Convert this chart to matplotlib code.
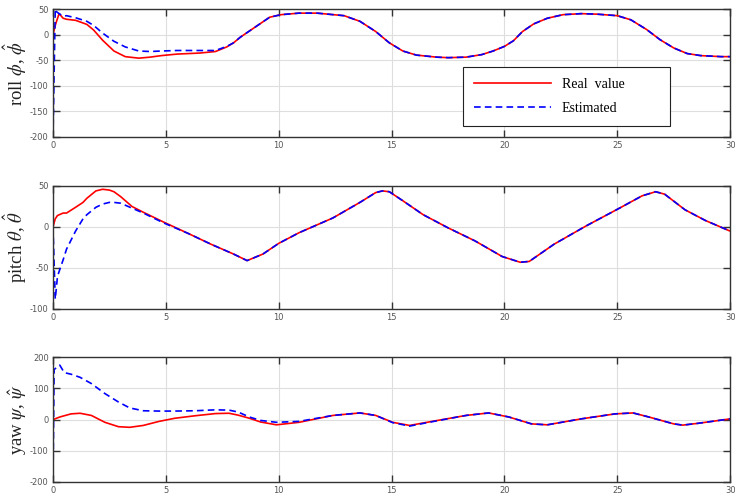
import numpy as np
import matplotlib
matplotlib.use('Agg')
import matplotlib.pyplot as plt

plt.rcParams['mathtext.fontset'] = 'stix'
plt.rcParams['axes.unicode_minus'] = False

# roll (deg)
roll_t = [0, 0.1, 0.15, 0.27, 0.45, 0.6, 1.0, 1.5, 1.8, 2.2, 2.7, 3.2, 3.8, 4.3, 4.8, 5.5, 6.5, 7.2,
          7.7, 8.0, 8.3, 8.7, 9.2, 9.6, 10.1, 10.9, 11.7, 12.9, 13.6, 14.3, 14.9, 15.5, 16.1, 17.0,
          17.5, 18.3, 19.0, 19.5, 20.0, 20.4, 20.8, 21.3, 21.9, 22.6, 23.4, 24.1, 25.0, 25.6, 26.3,
          26.9, 27.5, 28.1, 28.7, 29.6, 30.0]
roll_real = [0, 18, 25, 41, 32, 30, 28, 20, 9, -11, -32, -43, -46, -44, -41, -38, -36, -33,
             -24, -16, -5, 7, 22, 34, 39, 42, 42, 37, 26, 6, -16, -32, -40, -44,
             -45, -44, -39, -32, -23, -12, 6, 21, 32, 39, 41, 40, 37, 29, 10,
             -10, -26, -37, -41, -43, -43]
roll_est = [-200, 50, 45, 41, 36, 37, 33, 26, 18, 3, -13, -24, -32, -33, -32, -31, -31, -31,
            -23, -16, -5, 7, 22, 34, 39, 42, 42, 37, 26, 6, -16, -32, -40, -44,
            -45, -44, -39, -32, -23, -12, 6, 21, 32, 39, 41, 40, 37, 29, 10,
            -10, -26, -37, -41, -43, -43]

# pitch (deg)
pitch_t = [0, 0.1, 0.2, 0.45, 0.6, 1.0, 1.33, 1.5, 1.9, 2.2, 2.5, 2.7, 3.0, 3.5, 4.0, 4.9, 6.0,
           7.0, 8.0, 8.6, 9.3, 10.0, 10.9, 12.4, 13.6, 14.3, 14.6, 14.9, 15.5, 16.4, 17.5, 18.7,
           19.9, 20.7, 21.1, 22.2, 23.6, 25.1, 26.1, 26.7, 27.1, 28.0, 28.9, 30.0]
pitch_real = [0, 10, 14, 17, 17, 24, 30, 35, 44, 46, 45, 43, 37, 25, 18, 6, -8,
              -21, -33, -41, -33, -20, -7, 11, 30, 42, 44, 43, 32, 15, -1, -17,
              -36, -43, -42, -21, 1, 23, 38, 43, 40, 21, 8, -5]
pitch_est = [0, -88, -60, -40, -27, -5, 10, 15, 24, 28, 30, 30, 29, 23, 17, 5, -8,
             -21, -33, -41, -33, -20, -7, 11, 30, 42, 44, 43, 32, 15, -1, -17,
             -36, -43, -42, -21, 1, 23, 38, 43, 40, 21, 8, -5]

# yaw (deg)
yaw_t = [0, 0.05, 0.3, 0.5, 0.8, 1.2, 1.7, 2.3, 2.9, 3.4, 4.0, 4.7, 5.4, 6.3, 7.2, 7.8, 8.2, 8.7,
         9.2, 9.9, 10.9, 12.4, 13.6, 14.3, 15.05, 15.8, 16.8, 18.3, 19.3, 20.2, 21.2, 21.9, 23.4,
         24.9, 25.7, 26.4, 27.5, 27.9, 28.6, 30.0]
yaw_real = [0, 1, 8, 12, 18, 20, 13, -9, -23, -25, -19, -6, 4, 12, 19, 20, 14, 4,
            -8, -17, -9, 13, 21, 13, -9, -19, -6, 13, 21, 8, -14, -17, 2,
            18, 21, 8, -14, -18, -12, 2]
yaw_est = [-200, 160, 174, 150, 145, 135, 115, 83, 56, 37, 28, 27, 27, 28, 31, 30, 24, 8,
           -3, -9, -6, 13, 21, 13, -10, -21, -7, 13, 21, 8, -14, -17, 2,
           18, 21, 8, -14, -18, -12, 2]

fig = plt.figure(figsize=(7.36, 4.94), dpi=100)
boxes = [[0.072, 0.7227, 0.92, 0.259],
         [0.072, 0.3745, 0.92, 0.249],
         [0.072, 0.0243, 0.92, 0.253]]
panels = [
    (roll_t, roll_real, roll_est, (-200, 50), np.arange(-200, 51, 50), r'roll $\phi$, $\hat{\phi}$'),
    (pitch_t, pitch_real, pitch_est, (-100, 50), np.arange(-100, 51, 50), r'pitch $\theta$, $\hat{\theta}$'),
    (yaw_t, yaw_real, yaw_est, (-200, 200), np.arange(-200, 201, 100), r'yaw $\psi$, $\hat{\psi}$'),
]

axes = []
for box, (t, real, est, ylim, yticks, label) in zip(boxes, panels):
    ax = fig.add_axes(box)
    ax.plot(t, real, color='r', lw=1.2, label='Real  value')
    ax.plot(t, est, color='b', lw=1.2, ls=(0, (4, 2.5)), label='Estimated')
    ax.set_xlim(0, 30)
    ax.set_ylim(*ylim)
    ax.set_xticks(np.arange(0, 31, 5))
    ax.set_yticks(yticks)
    ax.grid(True, color='#dedede', lw=0.8)
    ax.set_axisbelow(True)
    ax.tick_params(direction='in', length=5, width=1, top=True, right=True,
                   labelsize=6, labelcolor='#555555', color='#333333', pad=3)
    for s in ax.spines.values():
        s.set_color('#333333')
        s.set_linewidth(1)
    ax.set_ylabel(label, fontsize=13.5, family='Liberation Serif', color='#222222')
    ax.yaxis.set_label_coords(-0.036, 0.5)
    axes.append(ax)

# legend box stretched to the width seen in the reference
leg = axes[0].legend(loc='upper left', bbox_to_anchor=(0.606, 0.547, 0.305, 0.0), mode='expand',
                     borderaxespad=0, fancybox=False, edgecolor='#222222', framealpha=1,
                     handlelength=5.5, borderpad=0.8, labelspacing=0.75,
                     prop={'family': 'Liberation Serif', 'size': 10})
leg.get_frame().set_linewidth(0.8)

fig.savefig('out.png', dpi=100)
